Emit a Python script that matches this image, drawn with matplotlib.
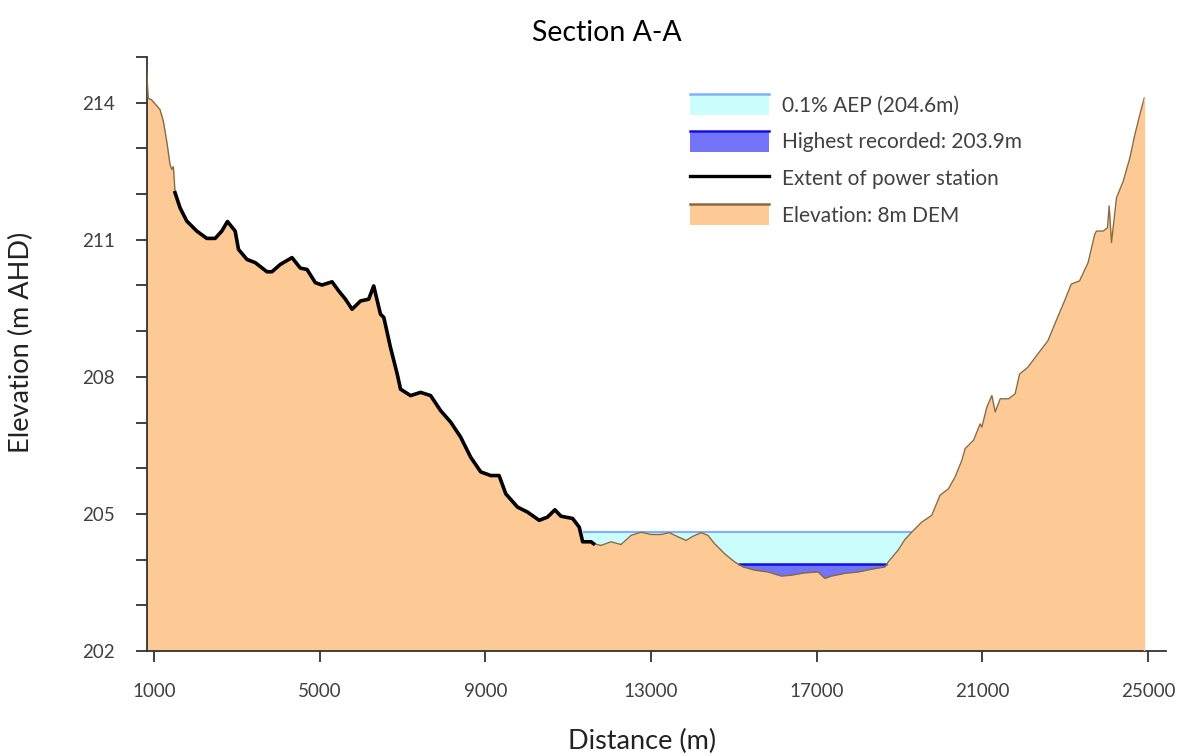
import numpy as np
import matplotlib
matplotlib.use("Agg")
import matplotlib.pyplot as plt
from matplotlib.legend_handler import HandlerBase
from matplotlib.patches import Rectangle, Patch
from matplotlib.lines import Line2D

plt.rcParams['font.family'] = ['Lato', 'DejaVu Sans']

# cross-section (distance m, elevation m AHD)
distance = [806, 860, 944, 1145, 1225, 1307, 1387, 1428, 1467, 1490,
            1508, 1629, 1791, 2033, 2275, 2476, 2637, 2774, 2960, 3040,
            3243, 3444, 3727, 3848, 4049, 4332, 4533, 4695, 4896, 5058,
            5300, 5460, 5622, 5783, 5985, 6184, 6305, 6469, 6549, 6711,
            6873, 6953, 7195, 7437, 7679, 7921, 8163, 8405, 8647, 8889,
            9131, 9332, 9494, 9777, 10019, 10300, 10500, 10680, 10825, 11108,
            11268, 11350, 11551, 11613, 11793, 12035, 12277, 12519, 12761, 13003,
            13245, 13446, 13648, 13850, 14012, 14214, 14375, 14535, 14777, 15019,
            15222, 15500, 15823, 16149, 16391, 16713, 17036, 17195, 17359, 17680,
            18003, 18327, 18648, 18729, 18970, 19131, 19295, 19537, 19779, 19980,
            20182, 20343, 20505, 20585, 20788, 20947, 20989, 21110, 21231, 21311,
            21432, 21635, 21793, 21900, 22100, 22340, 22584, 22784, 22985, 23147,
            23348, 23554, 23715, 23756, 23917, 24022, 24063, 24119, 24240, 24402,
            24562, 24683, 24804, 24910]
elevation = [215.0, 214.1, 214.06, 213.85, 213.6, 213.16, 212.65, 212.54, 212.6, 212.3,
             212.03, 211.70, 211.41, 211.19, 211.03, 211.03, 211.19, 211.40, 211.19, 210.79,
             210.57, 210.50, 210.30, 210.30, 210.46, 210.61, 210.38, 210.35, 210.06, 210.01,
             210.08, 209.88, 209.70, 209.48, 209.66, 209.70, 209.99, 209.37, 209.30, 208.64,
             208.06, 207.73, 207.59, 207.66, 207.59, 207.26, 207.01, 206.68, 206.24, 205.92,
             205.84, 205.84, 205.44, 205.15, 205.04, 204.86, 204.93, 205.09, 204.95, 204.90,
             204.71, 204.39, 204.39, 204.35, 204.31, 204.39, 204.33, 204.53, 204.60, 204.55,
             204.55, 204.59, 204.50, 204.42, 204.51, 204.59, 204.53, 204.35, 204.13, 203.95,
             203.84, 203.77, 203.73, 203.64, 203.66, 203.71, 203.73, 203.59, 203.64, 203.70,
             203.73, 203.79, 203.84, 203.95, 204.21, 204.44, 204.60, 204.82, 204.97, 205.41,
             205.55, 205.81, 206.17, 206.43, 206.61, 206.97, 206.90, 207.34, 207.59, 207.23,
             207.52, 207.52, 207.63, 208.06, 208.21, 208.50, 208.79, 209.23, 209.66, 210.03,
             210.10, 210.50, 211.12, 211.19, 211.19, 211.26, 211.74, 210.94, 211.92, 212.28,
             212.79, 213.30, 213.74, 214.10]

station_extent = [1508, 11613]
aep_level = 204.6
aep_extent = [11350, 19295]
recorded_level = 203.9
recorded_extent = [15100, 18690]

labels = ["0.1% AEP (204.6m)", "Highest recorded: 203.9m",
          "Extent of power station", "Elevation: 8m DEM"]


class TopLineHandler(HandlerBase):
    # filled box with a coloured line along its top edge
    def create_artists(self, legend, orig_handle, xdescent, ydescent,
                       width, height, fontsize, trans):
        x0, y0 = -xdescent, -ydescent
        rect = Rectangle((x0, y0), width, height, transform=trans,
                         facecolor=orig_handle.get_facecolor(), edgecolor='none')
        top = Line2D([x0, x0 + width], [y0 + height] * 2, transform=trans,
                     color=orig_handle.get_edgecolor(), lw=1.8)
        return [rect, top]


def main():
    x = np.array(distance, dtype=float)
    y = np.array(elevation)

    fig = plt.figure(figsize=(11.88, 7.56), dpi=100)
    ax = fig.add_axes([147 / 1188, 1 - 651 / 756, (1166 - 147) / 1188, (651 - 57) / 756])

    ground = '#fdc995'
    ground_edge = '#8a6a40'
    aep_fill, aep_line = '#ccfdfd', '#7fb0ff'
    rec_fill, rec_line = '#7474f8', '#1010e8'

    ax.fill_between(x, 202, y, color=ground, lw=0, zorder=1)

    m = (x >= aep_extent[0]) & (x <= aep_extent[1])
    ax.fill_between(x, np.minimum(y, aep_level), aep_level, where=m,
                    color=aep_fill, lw=0, zorder=2)
    m = (x >= recorded_extent[0]) & (x <= recorded_extent[1])
    ax.fill_between(x, np.minimum(y, recorded_level), recorded_level, where=m,
                    color=rec_fill, lw=0, zorder=3)
    ax.hlines(aep_level, *aep_extent, color=aep_line, lw=1.5, zorder=4)
    ax.hlines(recorded_level, *recorded_extent, color=rec_line, lw=1.8, zorder=4)

    ax.plot(x, y, color=ground_edge, lw=1.0, zorder=5)
    ax.vlines(x[-1], 202, y[-1], color=ground, lw=1.0, zorder=5)
    s = (x >= station_extent[0]) & (x <= station_extent[1])
    ax.plot(x[s], y[s], color='black', lw=2.6, zorder=6)

    ax.set_xlim(831, 25435)
    ax.set_ylim(202, 215)
    ax.set_xticks(np.arange(1000, 25001, 4000))
    ax.set_yticks(np.arange(202, 215, 3))
    ax.set_yticks(np.arange(202, 216, 1), minor=True)
    ax.tick_params(axis='both', which='both', direction='out', length=8,
                   width=1.3, colors='#333333', labelcolor='#404040', labelsize=13.5)
    ax.tick_params(axis='y', pad=15)
    ax.tick_params(axis='x', pad=15)
    for side in ('top', 'right'):
        ax.spines[side].set_visible(False)
    for side in ('left', 'bottom'):
        ax.spines[side].set_color('#333333')
        ax.spines[side].set_linewidth(1.3)

    ax.set_xlabel("Distance (m)", fontsize=19.5, color='#222222', va='center')
    ax.xaxis.set_label_coords(0.486, -0.153)
    ax.set_ylabel("Elevation (m AHD)", fontsize=19.5, color='#222222', va='center')
    ax.yaxis.set_label_coords(-0.123, 0.52)
    fig.text(607 / 1188, 1 - 33 / 756, "Section A-A", fontsize=20.5,
             ha='center', va='center', color='black')

    handles = [Patch(facecolor=aep_fill, edgecolor=aep_line),
               Patch(facecolor=rec_fill, edgecolor=rec_line),
               Line2D([], [], color='black', lw=2.4),
               Patch(facecolor=ground, edgecolor=ground_edge)]
    leg = ax.legend(handles, labels, loc='upper left',
                    bbox_to_anchor=(690 / 1188, 1 - 94 / 756),
                    bbox_transform=fig.transFigure, frameon=False,
                    fontsize=15, handlelength=3.8, handleheight=1.2,
                    labelspacing=0.72, handletextpad=0.62, borderpad=0,
                    borderaxespad=0,
                    handler_map={Patch: TopLineHandler()})
    for t in leg.get_texts():
        t.set_color('#404040')

    fig.savefig('out.png', dpi=100)


if __name__ == "__main__":
    main()
